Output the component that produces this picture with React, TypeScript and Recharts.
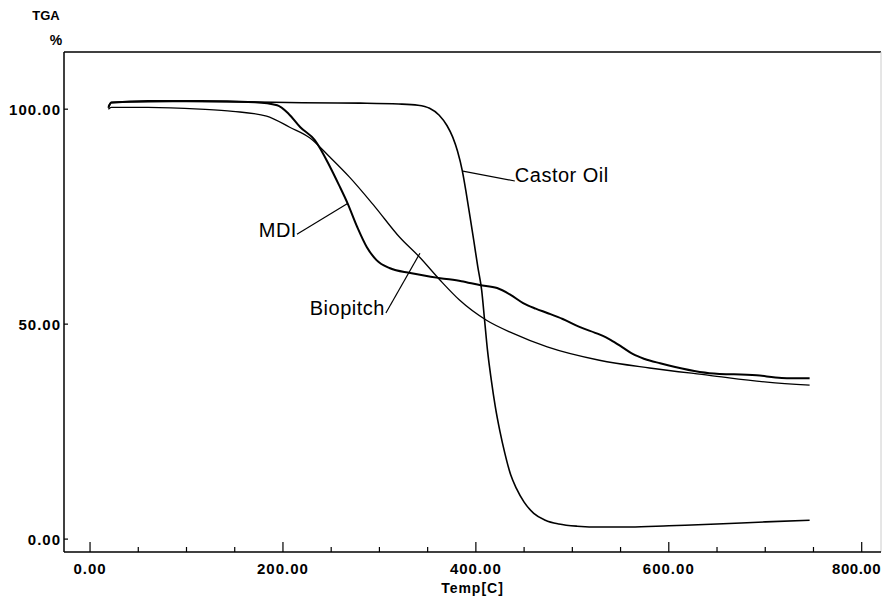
import React from 'react';
import { LineChart, Line, XAxis, YAxis, ReferenceLine, ReferenceDot } from 'recharts';

// TGA curves, temperature in C, weight in %
const CASTOR_T = [19, 22, 40, 100, 160, 220, 280, 320, 340, 352, 362, 370, 376, 381, 386, 390, 394, 398, 402, 406, 409, 412, 416, 420, 425, 430, 436, 442, 450, 460, 472, 486, 505, 530, 560, 600, 650, 700, 746];
const CASTOR_W = [100.6, 101.6, 101.7, 101.8, 101.7, 101.5, 101.4, 101.2, 100.9, 100.2, 98.6, 96.2, 93.5, 90.2, 85.6, 80.5, 74.9, 69.2, 63.3, 57.9, 51.0, 44.0, 37.0, 31.0, 25.0, 20.0, 15.0, 11.8, 8.6, 6.0, 4.4, 3.5, 3.0, 2.8, 2.8, 3.1, 3.5, 4.0, 4.4];

const MDI_T = [19, 22, 60, 114, 171, 194, 206, 218, 233, 249, 258, 267, 277, 287, 297, 311, 332, 363, 385, 404, 422, 436, 449, 462, 474, 490, 508, 528, 540, 552, 563, 575, 591, 642, 691, 717, 746];
const MDI_W = [100.3, 101.5, 101.9, 101.9, 101.6, 100.9, 98.9, 95.8, 92.8, 86.5, 82.4, 78.1, 72.6, 67.9, 64.9, 63.0, 61.9, 60.7, 60.0, 59.1, 58.4, 56.8, 54.9, 53.6, 52.6, 51.2, 49.3, 47.6, 46.3, 44.6, 43.0, 41.9, 40.9, 38.6, 38.1, 37.5, 37.4];

const BIO_T = [19, 22, 60, 114, 148, 183, 207, 228, 248, 269, 295, 321, 342, 363, 383, 411, 438, 474, 528, 580, 642, 702, 746];
const BIO_W = [100.0, 100.4, 100.4, 100.0, 99.5, 98.4, 95.8, 93.3, 89.0, 84.2, 77.4, 70.2, 65.5, 60.2, 55.6, 50.9, 47.9, 44.7, 41.6, 39.8, 38.1, 36.5, 35.8];

const X_TICKS = [0, 50, 100, 150, 200, 250, 300, 350, 400, 450, 500, 550, 600, 650, 700, 750, 800];
const Y_TICKS = [0, 50, 100];

const toPoints = (ts: number[], ws: number[]) => ts.map((t, i) => ({ t, w: ws[i] }));

const castor = toPoints(CASTOR_T, CASTOR_W);
const mdi = toPoints(MDI_T, MDI_W);
const bio = toPoints(BIO_T, BIO_W);

const X_MIN = -27;
const X_MAX = 820;
const Y_MIN = -3;
const Y_MAX = 113.3;

const FONT = "'Liberation Sans', Arial, sans-serif";

function XTick(props: any) {
  const { x, y, payload } = props;
  const major = payload.value % 200 === 0;
  // last label sits against the right edge of the page
  const last = payload.value === X_TICKS[X_TICKS.length - 1];
  return (
    <g>
      <line x1={x} y1={y} x2={x} y2={y - (major ? 10 : 5)} stroke="#000" strokeWidth={1.2} />
      {major && (
        <text
          x={last ? 881 : x}
          y={y + 22}
          textAnchor={last ? 'end' : 'middle'}
          fontFamily={FONT}
          fontWeight="bold"
          fontSize={15}
          letterSpacing={last ? 0.5 : 1}
          fill="#000"
        >
          {payload.value.toFixed(2)}
        </text>
      )}
    </g>
  );
}

function YTick(props: any) {
  const { x, y, payload } = props;
  return (
    <g>
      <line x1={x} y1={y} x2={x + 4} y2={y} stroke="#000" strokeWidth={1.2} />
      <text x={x - 3} y={y + 5.5} textAnchor="end" fontFamily={FONT} fontWeight="bold" fontSize={15} letterSpacing={1} fill="#000">
        {payload.value.toFixed(2)}
      </text>
    </g>
  );
}

function AxisTitle() {
  return (
    <g fontFamily={FONT} fontWeight="bold" fill="#000">
      <text x={46} y={20} textAnchor="middle" fontSize={13}>TGA</text>
      <text x={56} y={45} textAnchor="middle" fontSize={14}>%</text>
    </g>
  );
}

const curveLabel = (value: string, position: 'left' | 'right') => ({
  value,
  position,
  offset: 0,
  fill: '#000',
  fontSize: 20,
  fontFamily: FONT,
  letterSpacing: 0.5,
});

export default function App() {
  return (
    <div style={{ position: 'absolute', left: 0, top: 0, background: '#fff' }}>
      <LineChart width={882} height={597} margin={{ top: 52, right: 1, bottom: 0, left: 0 }}>
        <XAxis
          dataKey="t"
          type="number"
          domain={[X_MIN, X_MAX]}
          allowDataOverflow
          ticks={X_TICKS}
          interval={0}
          tick={<XTick />}
          tickLine={false}
          tickSize={0}
          tickMargin={0}
          height={45}
          axisLine={{ stroke: '#000', strokeWidth: 1.5 }}
          label={{ value: 'Temp[C]', position: 'insideBottom', offset: 4, fill: '#000', fontSize: 14, fontWeight: 'bold', fontFamily: FONT, letterSpacing: 1 }}
        />
        <YAxis
          type="number"
          domain={[Y_MIN, Y_MAX]}
          allowDataOverflow
          ticks={Y_TICKS}
          interval={0}
          tick={<YTick />}
          tickLine={false}
          tickSize={0}
          tickMargin={0}
          width={64}
          axisLine={{ stroke: '#000', strokeWidth: 1.5 }}
          label={AxisTitle}
        />
        <ReferenceLine y={Y_MAX} stroke="#000" strokeWidth={1.5} />
        <ReferenceLine x={X_MAX} stroke="#ccc" strokeWidth={1} />

        <Line data={castor} dataKey="w" type="monotone" stroke="#000" strokeWidth={1.6} dot={false} isAnimationActive={false} />
        <Line data={mdi} dataKey="w" type="monotone" stroke="#000" strokeWidth={2} dot={false} isAnimationActive={false} />
        <Line data={bio} dataKey="w" type="monotone" stroke="#000" strokeWidth={1.3} dot={false} isAnimationActive={false} />

        <ReferenceLine segment={[{ x: 386.5, y: 85.6 }, { x: 440.4, y: 83.3 }]} stroke="#000" strokeWidth={1.2} />
        <ReferenceLine segment={[{ x: 214.5, y: 70.9 }, { x: 267.4, y: 78.1 }]} stroke="#000" strokeWidth={1.2} />
        <ReferenceLine segment={[{ x: 306.7, y: 52.6 }, { x: 342, y: 66.5 }]} stroke="#000" strokeWidth={1.2} />

        <ReferenceDot x={440.4} y={84.65} r={0} fill="none" stroke="none" label={curveLabel('Castor Oil', 'right')} />
        <ReferenceDot x={214.5} y={72.0} r={0} fill="none" stroke="none" label={curveLabel('MDI', 'left')} />
        <ReferenceDot x={305.7} y={53.8} r={0} fill="none" stroke="none" label={curveLabel('Biopitch', 'left')} />
      </LineChart>
    </div>
  );
}
